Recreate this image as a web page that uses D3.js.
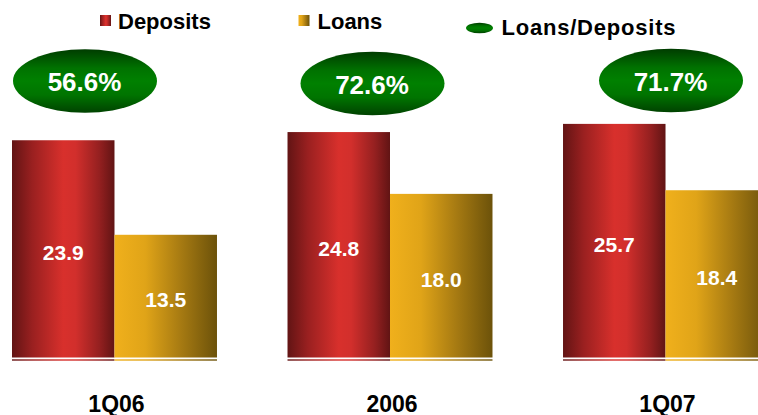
<!DOCTYPE html>
<html>
<head>
<meta charset="utf-8">
<script src="https://cdn.jsdelivr.net/npm/d3@7"></script>
<style>
  html, body { margin: 0; padding: 0; background: #fff; }
  svg { display: block; font-family: "Liberation Sans", Arial, sans-serif; }
</style>
</head>
<body>
<svg id="chart" width="758" height="415"></svg>
<script>
// Deposits and loans by period (values in the units printed on the bars)
const periods = ["1Q06", "2006", "1Q07"];
const seriesNames = ["Deposits", "Loans"];
const deposits = [23.9, 24.8, 25.7];
const loans = [13.5, 18.0, 18.4];
const loanToDeposit = [56.6, 72.6, 71.7];
const ratioLabel = "Loans/Deposits";

const W = 758, H = 415;
const baseY = 357.5;

const svg = d3.select("#chart");
const defs = svg.append("defs");

// Horizontal cylinder-like shading for the deposit bars
const gDep = defs.append("linearGradient").attr("id", "gradDep")
  .attr("x1", "0%").attr("x2", "100%").attr("y1", "0%").attr("y2", "0%");
[["0%", "#621414"], ["20%", "#9a2020"], ["50%", "#d8302c"], ["62%", "#d22f2c"], ["85%", "#952020"], ["100%", "#611414"]]
  .forEach(([o, c]) => gDep.append("stop").attr("offset", o).attr("stop-color", c));

// Loans fade from gold to dark olive
const gLoan = defs.append("linearGradient").attr("id", "gradLoan")
  .attr("x1", "0%").attr("x2", "100%").attr("y1", "0%").attr("y2", "0%");
[["0%", "#f0b01c"], ["30%", "#e0a418"], ["65%", "#a67a12"], ["100%", "#6c520a"]]
  .forEach(([o, c]) => gLoan.append("stop").attr("offset", o).attr("stop-color", c));

// Green bubble shading for the ratio labels
const gRatio = defs.append("linearGradient").attr("id", "gradRatio")
  .attr("x1", "0%").attr("x2", "0%").attr("y1", "0%").attr("y2", "100%");
[["0%", "#003c00"], ["30%", "#007200"], ["50%", "#008000"], ["72%", "#007400"], ["100%", "#004200"]]
  .forEach(([o, c]) => gRatio.append("stop").attr("offset", o).attr("stop-color", c));

const fills = { Deposits: "url(#gradDep)", Loans: "url(#gradLoan)" };

// Scales
const x0 = d3.scaleBand().domain(periods).range([12, 768]).paddingInner(0.256).paddingOuter(0).align(0);
const x1 = d3.scaleBand().domain(seriesNames).range([0, x0.bandwidth()]).padding(0);
const y = d3.scaleLinear().domain([0, 30]).range([baseY, baseY - 30 * 9.09]);

const rows = periods.map((p, i) => ({
  period: p,
  values: [
    { key: "Deposits", value: deposits[i] },
    { key: "Loans", value: loans[i] }
  ],
  ratio: loanToDeposit[i]
}));

const groups = svg.selectAll("g.period").data(rows).join("g")
  .attr("class", "period")
  .attr("transform", d => `translate(${x0(d.period)},0)`);

// Bars
groups.selectAll("rect.bar").data(d => d.values).join("rect")
  .attr("class", "bar")
  .attr("x", d => x1(d.key))
  .attr("y", d => y(d.value))
  .attr("width", x1.bandwidth())
  .attr("height", d => y(0) - y(d.value))
  .attr("fill", d => fills[d.key]);

// Thin base line under each bar
groups.selectAll("rect.base").data(d => d.values).join("rect")
  .attr("class", "base")
  .attr("x", d => x1(d.key))
  .attr("y", baseY + 1.8)
  .attr("width", x1.bandwidth())
  .attr("height", 1.4)
  .attr("fill", d => fills[d.key]);

// Value labels inside bars
groups.selectAll("text.val").data(d => d.values).join("text")
  .attr("class", "val")
  .attr("x", d => x1(d.key) + x1.bandwidth() / 2)
  .attr("y", d => (y(d.value) + y(0)) / 2 + 11)
  .attr("text-anchor", "middle")
  .attr("fill", "#fff")
  .attr("font-weight", "bold")
  .attr("font-size", 21)
  .text(d => d.value.toFixed(1));

// Period labels
groups.append("text")
  .attr("x", x0.bandwidth() / 2 + 2)
  .attr("y", 411.5)
  .attr("text-anchor", "middle")
  .attr("fill", "#000")
  .attr("font-weight", "bold")
  .attr("font-size", 23)
  .text(d => d.period);

// Ratio bubbles above each group
const bubbleDx = [73, 85, 108];
const bubbleCy = [81, 83.5, 80.5];
groups.append("ellipse")
  .attr("cx", (d, i) => bubbleDx[i])
  .attr("cy", (d, i) => bubbleCy[i])
  .attr("rx", 72)
  .attr("ry", 31.8)
  .attr("fill", "url(#gradRatio)");

groups.append("text")
  .attr("x", (d, i) => bubbleDx[i] - 0.5)
  .attr("y", (d, i) => bubbleCy[i] + 10)
  .attr("text-anchor", "middle")
  .attr("fill", "#fff")
  .attr("font-weight", "bold")
  .attr("font-size", 26)
  .text(d => d.ratio.toFixed(1) + "%");

// Legend
const legend = svg.append("g").attr("class", "legend");
const legendItems = [
  { name: seriesNames[0], fill: fills.Deposits, sx: 100, tx: 118 },
  { name: seriesNames[1], fill: fills.Loans, sx: 298.5, tx: 317.5 }
];
legendItems.forEach(it => {
  legend.append("rect").attr("x", it.sx).attr("y", 15).attr("width", 11).attr("height", 11).attr("fill", it.fill);
  legend.append("text").attr("x", it.tx).attr("y", 29)
    .attr("font-weight", "bold").attr("font-size", 22).attr("fill", "#000").text(it.name);
});
legend.append("ellipse").attr("cx", 479.5).attr("cy", 28).attr("rx", 13.5).attr("ry", 5.2).attr("fill", "url(#gradRatio)");
legend.append("text").attr("x", 501.5).attr("y", 34.5)
  .attr("font-weight", "bold").attr("font-size", 22)
  .attr("textLength", 174).attr("lengthAdjust", "spacing")
  .attr("fill", "#000").text(ratioLabel);
</script>
</body>
</html>
